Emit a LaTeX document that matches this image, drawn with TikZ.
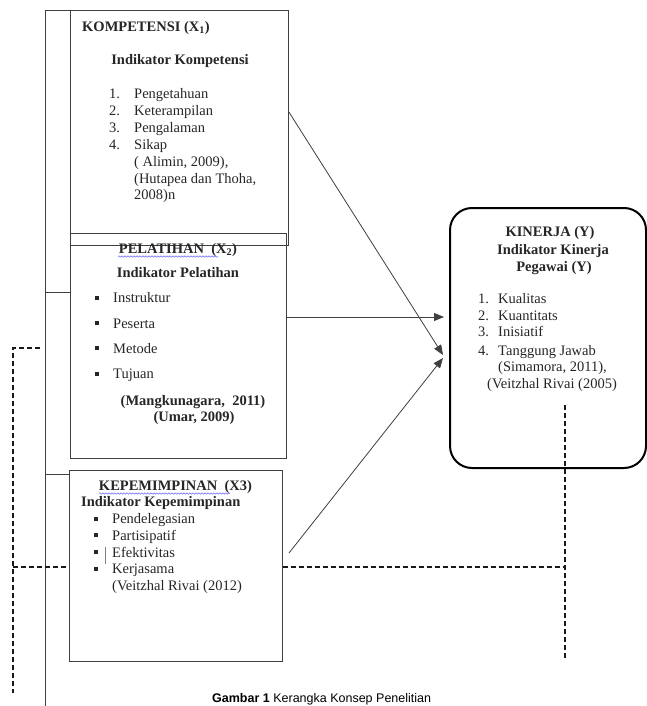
\documentclass[tikz,border=0pt]{standalone}
\usepackage{fontspec}
\setmainfont{Liberation Serif}
\newfontfamily\arialfont{Liberation Sans}
\usetikzlibrary{arrows.meta,calc,decorations.pathmorphing}
\begin{document}
\begin{tikzpicture}[x=1pt,y=-1pt,
  box/.style={draw=black!75, line width=0.9pt, inner sep=0pt, anchor=north west},
  txt/.style={inner sep=0pt, font=\fontsize{14.5pt}{16.5pt}\selectfont, text=black!85},
  lbl/.style={txt, anchor=base west},
  ctr/.style={txt, anchor=base},
  conn/.style={draw=black!75, line width=0.8pt},
  arr/.style={conn, -{Triangle[length=10pt,width=8pt]}},
  dsh/.style={draw=black!90, line width=1.1pt, dash pattern=on 5pt off 3pt},
  wavy/.style={draw=blue!60, line width=0.5pt, decorate, decoration={snake, amplitude=0.7pt, segment length=3pt}},
]
\useasboundingbox (0,0) rectangle (647,706);
\fill[white] (0,0) rectangle (647,706);

% boxes
\node[box, minimum width=218pt, minimum height=235pt] (komp) at (70,10) {};
\node[box, minimum width=216pt, minimum height=225pt] (pel) at (70,233) {};
\node[box, minimum width=213pt, minimum height=191pt] (kep) at (69,470) {};
\node[box, draw=black, line width=2pt, rounded corners=22pt, minimum width=196pt, minimum height=260pt] (kin) at (449,207) {};

% outer frame
\coordinate (ftop) at (45,10);
\coordinate (fbot) at (45,706);
\draw[conn] (fbot) -- (ftop) -- (komp.north west);
\coordinate (j1) at (45,292);
\coordinate (j2) at (45,474);
\draw[conn] (j1) -- (j1 -| pel.west);
\draw[conn] (j2) -- (j2 -| kep.west);

% arrows
\coordinate (tipA) at (443,355);
\coordinate (tipB) at (443,358);
\coordinate (t2) at (444,317);
\coordinate (s3) at (289,553);
\draw[arr] ([yshift=-102pt]komp.north east) -- (tipA);
\draw[arr] (t2 -| pel.east) -- (t2);
\draw[arr] (s3) -- (tipB);

% dashed lines
\coordinate (d1a) at (40,348);
\coordinate (d1b) at (13,348);
\coordinate (d1c) at (13,693);
\draw[dsh] (d1a) -- (d1b) -- (d1c);
\coordinate (d2a) at (13,567);
\coordinate (d2b) at (565,567);
\draw[dsh] (d2a) -- (d2a -| kep.west);
\draw[dsh] (d2b -| kep.east) -- (d2b);
\coordinate (d3a) at (565,405);
\coordinate (d3b) at (565,658);
\draw[dsh] (d3a) -- (d3b);

% KOMPETENSI
\node[lbl, font=\fontsize{14.5pt}{16.5pt}\selectfont\bfseries] (k0) at (82,31.5) {KOMPETENSI (X\textsubscript{1})};
\node[ctr, font=\fontsize{14.5pt}{16.5pt}\selectfont\bfseries] (k1) at (180,65) {Indikator Kompetensi};
\node[lbl] (k2) at (109,98.5) {\makebox[25pt][l]{1.}Pengetahuan};
\node[lbl] (k3) at (109,115.5) {\makebox[25pt][l]{2.}Keterampilan};
\node[lbl] (k4) at (109,132.5) {\makebox[25pt][l]{3.}Pengalaman};
\node[lbl] (k5) at (109,149) {\makebox[25pt][l]{4.}Sikap};
\node[lbl] (k6) at (134,166.5) {( Alimin, 2009),};
\node[lbl] (k7) at (134,183) {(Hutapea dan Thoha,};
\node[lbl] (k8) at (134,199.5) {2008)n};

% PELATIHAN
\node[ctr, font=\fontsize{14.5pt}{16.5pt}\selectfont\bfseries] (p0) at (178,253.5) {PELATIHAN\ \ (X\textsubscript{2})};
\draw[wavy] (118,256.5) -- (218,256.5);
\node[ctr, font=\fontsize{14.5pt}{16.5pt}\selectfont\bfseries] (p1) at (178,277) {Indikator Pelatihan};
\node[lbl] (p2) at (95,302.5) {\makebox[18pt][l]{\raisebox{2.8pt}{\rule{4pt}{4pt}}}Instruktur};
\node[lbl] (p3) at (95,328) {\makebox[18pt][l]{\raisebox{2.8pt}{\rule{4pt}{4pt}}}Peserta};
\node[lbl] (p4) at (95,353) {\makebox[18pt][l]{\raisebox{2.8pt}{\rule{4pt}{4pt}}}Metode};
\node[lbl] (p5) at (95,378.5) {\makebox[18pt][l]{\raisebox{2.8pt}{\rule{4pt}{4pt}}}Tujuan};
\node[ctr, font=\fontsize{14.5pt}{16.5pt}\selectfont\bfseries] (p6) at (193,405) {(Mangkunagara,\ \ 2011)};
\node[ctr, font=\fontsize{14.5pt}{16.5pt}\selectfont\bfseries] (p7) at (194,421) {(Umar, 2009)};

% KEPEMIMPINAN
\node[ctr, font=\fontsize{14.5pt}{16.5pt}\selectfont\bfseries] (e0) at (175.5,490.5) {KEPEMIMPINAN\ \ (X3)};
\draw[wavy] (99,493.5) -- (230,493.5);
\node[lbl, font=\fontsize{14.5pt}{16.5pt}\selectfont\bfseries] (e1) at (81,506.5) {Indikator Kepemimpinan};
\node[lbl] (e2) at (94,523.5) {\makebox[18pt][l]{\raisebox{2.8pt}{\rule{4pt}{4pt}}}Pendelegasian};
\node[lbl] (e3) at (94,540) {\makebox[18pt][l]{\raisebox{2.8pt}{\rule{4pt}{4pt}}}Partisipatif};
\node[lbl] (e4) at (94,557) {\makebox[18pt][l]{\raisebox{2.8pt}{\rule{4pt}{4pt}}}Efektivitas};
\node[lbl] (e5) at (94,573.5) {\makebox[18pt][l]{\raisebox{2.8pt}{\rule{4pt}{4pt}}}Kerjasama};
\node[lbl] (e6) at (112,590.5) {(Veitzhal Rivai (2012)};
\draw[black!50, line width=0.6pt] (105,547) -- (105,564);

% KINERJA
\node[ctr, font=\fontsize{14.5pt}{16.5pt}\selectfont\bfseries] (y0) at (550,236.5) {KINERJA (Y)};
\node[ctr, font=\fontsize{14.5pt}{16.5pt}\selectfont\bfseries] (y1) at (553,254.5) {Indikator Kinerja};
\node[ctr, font=\fontsize{14.5pt}{16.5pt}\selectfont\bfseries] (y2) at (554,271) {Pegawai (Y)};
\node[lbl] (y3) at (478,303.5) {\makebox[20pt][l]{1.}Kualitas};
\node[lbl] (y4) at (478,320) {\makebox[20pt][l]{2.}Kuantitats};
\node[lbl] (y5) at (478,336.5) {\makebox[20pt][l]{3.}Inisiatif};
\node[lbl] (y6) at (478,355) {\makebox[20pt][l]{4.}Tanggung Jawab};
\node[lbl] (y7) at (498,371.5) {(Simamora, 2011),};
\node[lbl] (y8) at (487,388) {(Veitzhal Rivai (2005)};

% caption
\node[anchor=base west, inner sep=0pt, font=\arialfont\fontsize{12.5pt}{14pt}\selectfont] (cap) at (212,702) {\textbf{Gambar 1} Kerangka Konsep Penelitian};
\end{tikzpicture}
\end{document}
